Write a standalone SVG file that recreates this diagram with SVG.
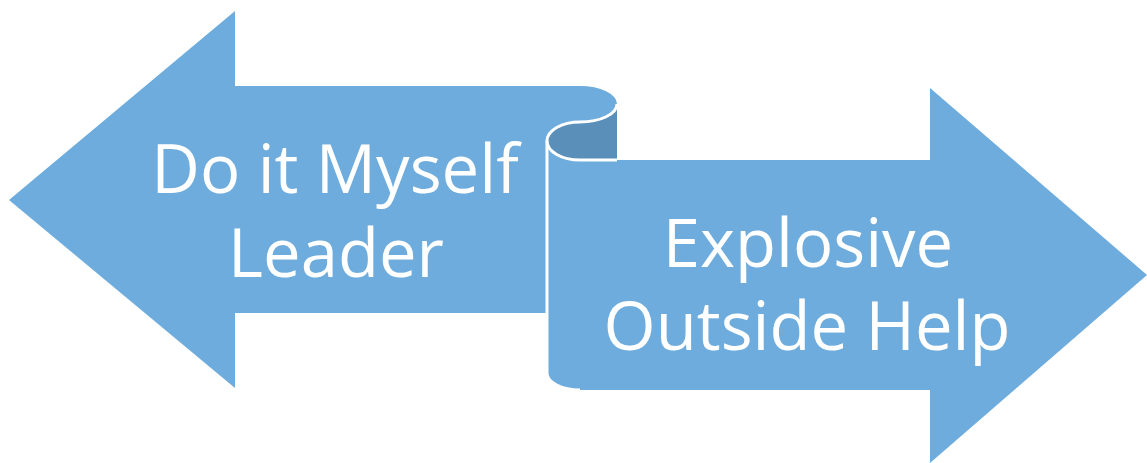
<svg xmlns="http://www.w3.org/2000/svg" width="1147" height="463" viewBox="0 0 1147 463">
<style>
.fill{fill:#6dacdc}
.dark{fill:#5a8fba}
.edge{stroke:#ffffff;stroke-width:3;fill:none}
.lbl{font-family:"Open Sans","DejaVu Sans",sans-serif;font-size:67px;fill:#ffffff;text-anchor:middle}
</style>
<rect width="1147" height="463" fill="#ffffff"/>
<g id="left-arrow">
<path class="fill" d="M9,200 L235,11 L235,86 L580,86 A37,18 0 0 1 617,104 L617,160 L548,160 L548,313 L235,313 L235,388 Z"/>
<text class="lbl" x="335" y="193">Do it Myself</text>
<text class="lbl" x="336" y="277">Leader</text>
</g>
<g id="curl">
<path class="dark" d="M617,104 A37,18 0 0 1 580,122 A33,19 0 0 0 547,141 A33,19 0 0 0 580,160 L617,160 Z"/>
</g>
<g id="right-arrow">
<path class="fill" d="M547,141 A33,19 0 0 0 580,160 L930,160 L930,88 L1147,275 L930,463 L930,390 L580,390 A33,17 0 0 1 547,373 Z"/>
<path class="edge" d="M617,104 A37,18 0 0 1 580,122 A33,19 0 0 0 547,141 A33,19 0 0 0 580,160 L617,160"/>
<path class="edge" d="M547,141 L547,373 A33,17 0 0 0 580,390"/>
<text class="lbl" x="808" y="267">Explosive</text>
<text class="lbl" x="807" y="350">Outside Help</text>
</g>
<g id="connectors"/>
</svg>
